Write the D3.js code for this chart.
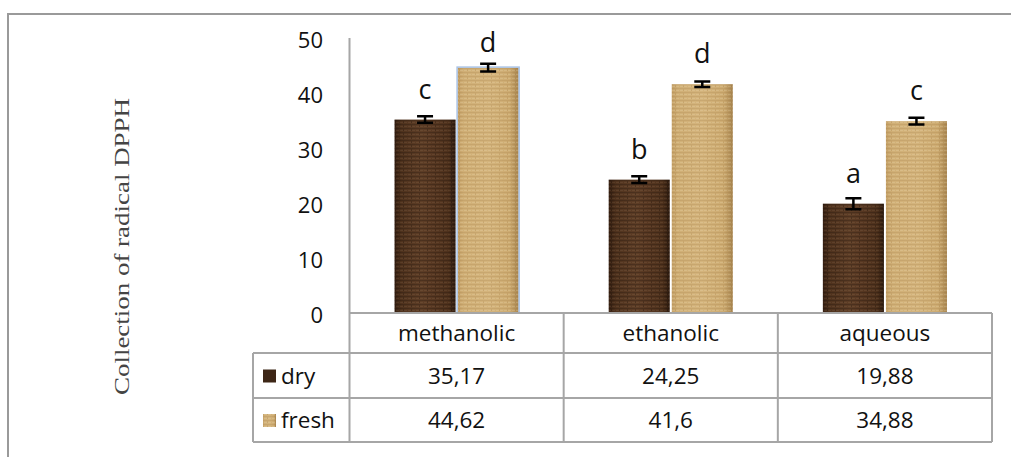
<!DOCTYPE html>
<html>
<head>
<meta charset="utf-8">
<script src="https://cdn.jsdelivr.net/npm/d3@7"></script>
<style>
  html, body { margin: 0; padding: 0; background: #fff; }
  svg { display: block; }
</style>
</head>
<body>
<svg id="chart" width="1011" height="457"></svg>
<script>
// Extract types (categories) and the two sample series
const categories = ["methanolic", "ethanolic", "aqueous"];
const seriesNames = ["dry", "fresh"];
const dryValues = [35.17, 24.25, 19.88];
const freshValues = [44.62, 41.6, 34.88];
const dryErrors = [0.6, 0.6, 1.0];
const freshErrors = [0.7, 0.5, 0.6];
const dryLetters = ["c", "b", "a"];
const freshLetters = ["d", "d", "c"];
const tableDry = ["35,17", "24,25", "19,88"];
const tableFresh = ["44,62", "41,6", "34,88"];
const yTicks = [0, 10, 20, 30, 40, 50];
const yTitle = "Collection of radical DPPH";

const svg = d3.select("#chart");
const W = 1011, H = 457;

// Layout
const plotLeft = 349.5, plotRight = 992, plotTop = 38, plotBottom = 313;
const headerBottom = 353, dryRowBottom = 398, freshRowBottom = 442;
const legendLeft = 253;
const gridColor = "#a6a6a6";
const sansFont = "'Open Sans', 'DejaVu Sans', sans-serif";

const series = seriesNames.map((name, s) => ({
  name,
  values: s === 0 ? dryValues : freshValues,
  errors: s === 0 ? dryErrors : freshErrors,
  letters: s === 0 ? dryLetters : freshLetters,
  cells: s === 0 ? tableDry : tableFresh
}));

const x0 = d3.scaleBand().domain(categories).range([plotLeft, plotRight]).paddingInner(0).paddingOuter(0);
const x1 = d3.scaleBand().domain(seriesNames).range([0, x0.bandwidth()]).paddingInner(0.032).paddingOuter(0.714);
const y = d3.scaleLinear().domain([0, 50]).range([plotBottom, plotTop]);

// Fills: shaded gradient + woven texture
const defs = svg.append("defs");
function hGrad(id, stops) {
  const g = defs.append("linearGradient").attr("id", id).attr("x1", "0%").attr("x2", "100%").attr("y1", "0%").attr("y2", "0%");
  stops.forEach(([o, c]) => g.append("stop").attr("offset", o).attr("stop-color", c));
}
hGrad("dryGrad", [["0%", "#361f11"], ["12%", "#4f321d"], ["45%", "#5d3d26"], ["60%", "#583822"], ["88%", "#4e311c"], ["100%", "#2f1b0e"]]);
hGrad("freshGrad", [["0%", "#c4a066"], ["10%", "#d0af76"], ["50%", "#d4b47c"], ["85%", "#cdab71"], ["100%", "#a98650"]]);

function texture(id, dark, light) {
  const p = defs.append("pattern").attr("id", id).attr("patternUnits", "userSpaceOnUse").attr("width", 8).attr("height", 4);
  p.append("rect").attr("x", 0).attr("y", 0).attr("width", 8).attr("height", 1).attr("fill", dark);
  p.append("rect").attr("x", 0).attr("y", 2).attr("width", 3).attr("height", 1).attr("fill", light);
  p.append("rect").attr("x", 4).attr("y", 2).attr("width", 3).attr("height", 1).attr("fill", light);
  p.append("rect").attr("x", 3).attr("y", 1).attr("width", 1).attr("height", 2).attr("fill", dark);
}
texture("dryTex", "rgba(0,0,0,0.18)", "rgba(255,220,180,0.07)");
texture("freshTex", "rgba(120,80,30,0.12)", "rgba(255,245,220,0.15)");

// Outer frame (left and top edges)
svg.append("path")
  .attr("d", `M8,${H} V14 H${W}`)
  .attr("fill", "none").attr("stroke", "#9a9a9a").attr("stroke-width", 2);

// Y axis title
svg.append("text")
  .attr("transform", `translate(129,${(98 + 395) / 2}) rotate(-90)`)
  .attr("text-anchor", "middle")
  .attr("font-family", "'Liberation Serif', 'Times New Roman', serif")
  .attr("font-size", 21)
  .attr("fill", "#444")
  .attr("textLength", 297)
  .attr("lengthAdjust", "spacingAndGlyphs")
  .text(yTitle);

// Y tick labels
svg.append("g").selectAll("text").data(yTicks).join("text")
  .attr("x", 323).attr("y", d => y(d) + 4)
  .attr("text-anchor", "end").attr("dominant-baseline", "middle")
  .attr("font-family", sansFont).attr("font-size", 22).attr("fill", "#111")
  .text(d => d);

// Bars
const groups = svg.append("g").selectAll("g").data(series).join("g");
groups.selectAll("g.bar").data((s, si) => s.values.map((v, i) => ({ s, si, i, v, cat: categories[i] })))
  .join("g").attr("class", "bar")
  .each(function (d) {
    const g = d3.select(this);
    const bx = x0(d.cat) + x1(d.s.name), bw = x1.bandwidth();
    const by = y(d.v), bh = y(0) - y(d.v);
    g.append("rect").attr("x", bx).attr("y", by).attr("width", bw).attr("height", bh)
      .attr("fill", d.si === 0 ? "url(#dryGrad)" : "url(#freshGrad)");
    g.append("rect").attr("x", bx).attr("y", by).attr("width", bw).attr("height", bh)
      .attr("fill", d.si === 0 ? "url(#dryTex)" : "url(#freshTex)");
    if (d.si === 1 && d.i === 0) {
      g.append("rect").attr("x", bx - 0.5).attr("y", by - 0.5).attr("width", bw + 1).attr("height", bh + 0.5)
        .attr("fill", "none").attr("stroke", "#a9c3e6").attr("stroke-width", 1.5);
    }
  });

// Error bars
const errData = [];
series.forEach((s, si) => s.values.forEach((v, i) => errData.push({ s, si, i, v, e: s.errors[i], letter: s.letters[i], cat: categories[i] })));
const cx = d => x0(d.cat) + x1(d.s.name) + x1.bandwidth() / 2;
const capHalf = 8;
const eb = svg.append("g").attr("stroke", "#000").attr("stroke-width", 2.5).attr("fill", "none");
eb.selectAll("path").data(errData).join("path")
  .attr("d", d => {
    const x = cx(d), yt = y(d.v + d.e), yb = y(d.v - d.e);
    return `M${x - capHalf},${yt} H${x + capHalf} M${x},${yt} V${yb} M${x - capHalf},${yb} H${x + capHalf}`;
  });

// Significance letters
svg.append("g").selectAll("text").data(errData).join("text")
  .attr("x", cx)
  .attr("y", d => Math.max(y(d.v) - 21, 52))
  .attr("text-anchor", "middle")
  .attr("font-family", sansFont).attr("font-size", 27).attr("fill", "#111")
  .text(d => d.letter);

// Axis line + data table grid
const grid = svg.append("g").attr("stroke", gridColor).attr("stroke-width", 2).attr("fill", "none");
grid.append("line").attr("x1", plotLeft).attr("x2", plotLeft).attr("y1", plotTop).attr("y2", freshRowBottom);
grid.append("line").attr("x1", plotLeft).attr("x2", plotRight).attr("y1", plotBottom).attr("y2", plotBottom);
grid.append("line").attr("x1", legendLeft).attr("x2", plotRight).attr("y1", headerBottom).attr("y2", headerBottom);
grid.append("line").attr("x1", legendLeft).attr("x2", plotRight).attr("y1", dryRowBottom).attr("y2", dryRowBottom);
grid.append("line").attr("x1", legendLeft).attr("x2", plotRight).attr("y1", freshRowBottom).attr("y2", freshRowBottom);
grid.append("line").attr("x1", legendLeft).attr("x2", legendLeft).attr("y1", headerBottom).attr("y2", freshRowBottom);
categories.forEach(c => {
  const xr = x0(c) + x0.bandwidth();
  grid.append("line").attr("x1", xr).attr("x2", xr).attr("y1", plotBottom).attr("y2", freshRowBottom);
});

// Table text: header and series rows
const tbl = svg.append("g").attr("font-family", sansFont).attr("font-size", 22.5).attr("fill", "#111").attr("text-anchor", "middle");
tbl.selectAll("text.cat").data(categories).join("text").attr("class", "cat")
  .attr("x", c => x0(c) + x0.bandwidth() / 2).attr("y", (plotBottom + headerBottom) / 2 + 8)
  .text(c => c);
const rowMid = [(headerBottom + dryRowBottom) / 2, (dryRowBottom + freshRowBottom) / 2];
series.forEach((s, si) => {
  tbl.selectAll(`text.r${si}`).data(s.cells).join("text").attr("class", `r${si}`)
    .attr("x", (t, i) => x0(categories[i]) + x0.bandwidth() / 2).attr("y", rowMid[si] + 8)
    .text(t => t);
  // Legend key inside the row header
  svg.append("rect").attr("x", 263).attr("y", rowMid[si] - 6).attr("width", 13).attr("height", 13)
    .attr("fill", si === 0 ? "#3d2616" : "url(#freshGrad)");
  if (si === 1) {
    svg.append("rect").attr("x", 263).attr("y", rowMid[si] - 6).attr("width", 13).attr("height", 13)
      .attr("fill", "url(#freshTex)");
  }
  svg.append("text").attr("x", 281).attr("y", rowMid[si] + 8)
    .attr("font-family", sansFont).attr("font-size", 22.5).attr("fill", "#111")
    .text(s.name);
});
</script>
</body>
</html>
